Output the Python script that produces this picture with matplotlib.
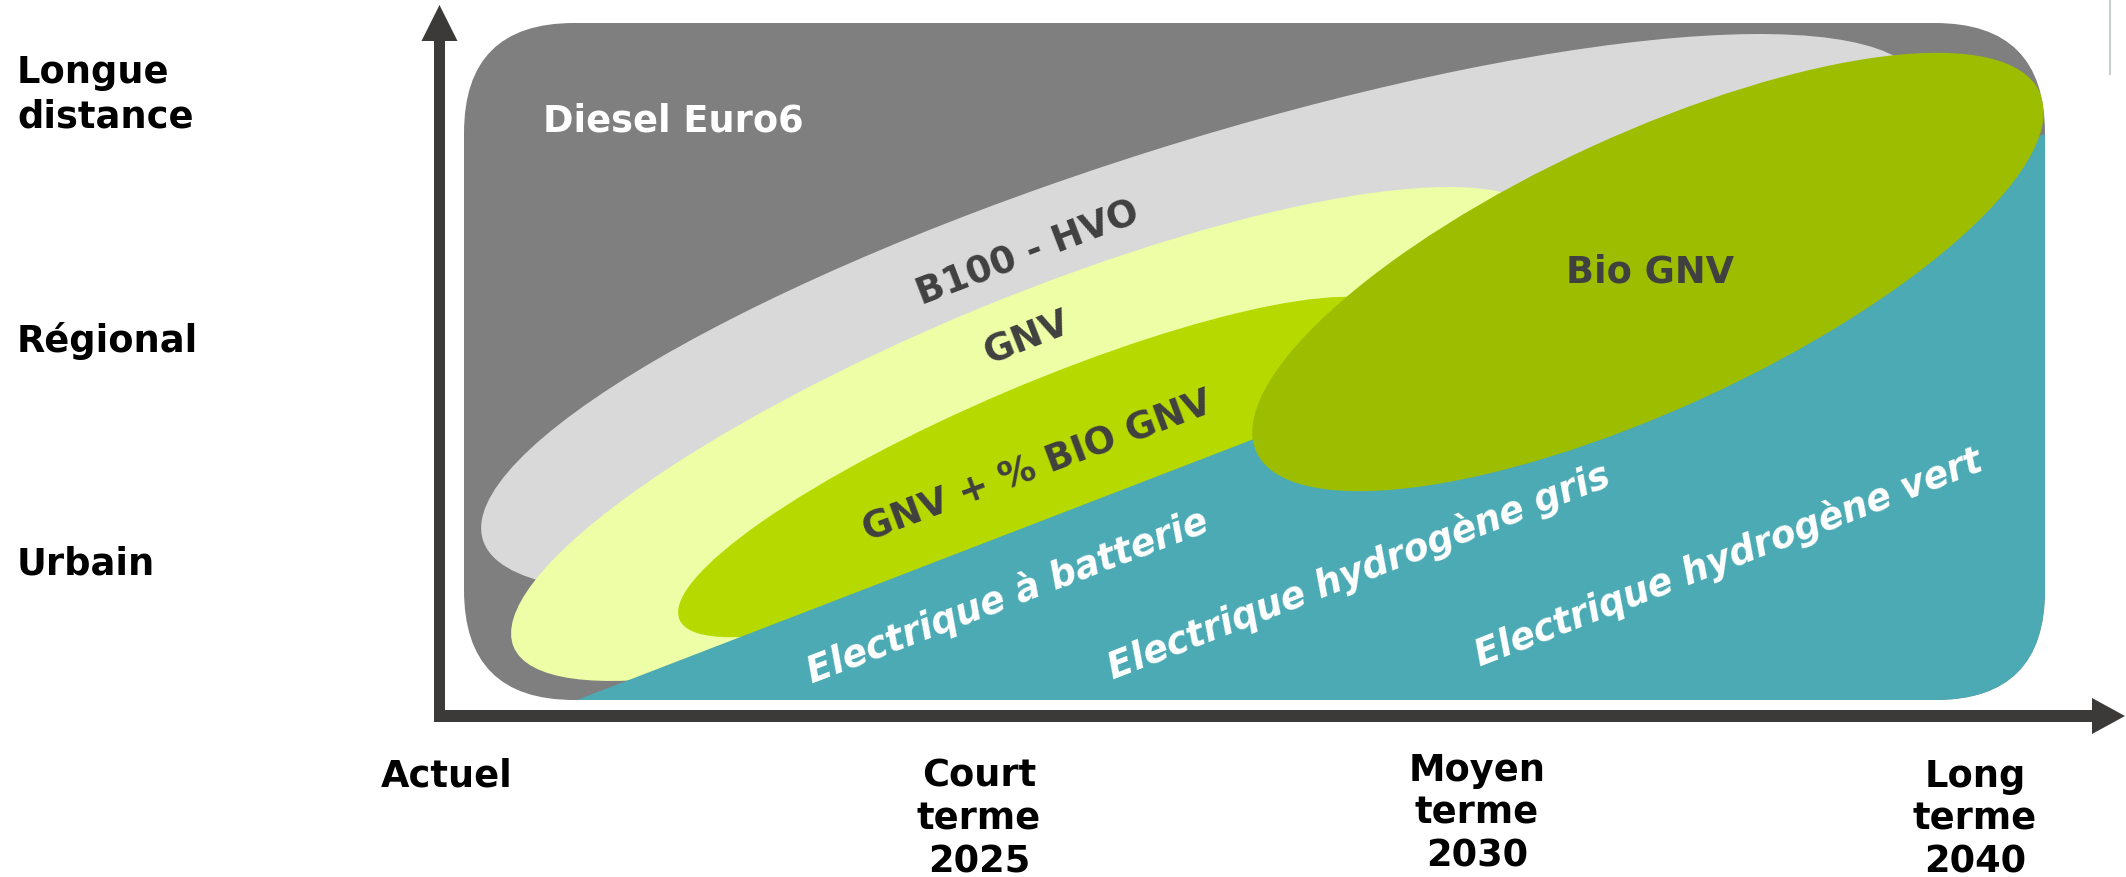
import matplotlib
matplotlib.use('Agg')
import matplotlib.pyplot as plt
from matplotlib.patches import Ellipse, FancyBboxPatch, Polygon, FancyArrow

plt.rcParams['font.family'] = ['DejaVu Sans']

# ---------------- data (schematic, pixel units of a 2126x878 canvas) ----------------
time_labels = ["Actuel", "Court\nterme\n2025", "Moyen\nterme\n2030", "Long\nterme\n2040"]
time_x = [447, 979, 1477, 1975]
time_baseline = [787, 787, 781, 787]

range_labels = ["Longue\ndistance", "Régional", "Urbain"]
range_baseline = [83, 352, 575]

# background technology (rounded frame)
base_name = "Diesel Euro6"
frame_box = [464, 24, 1581, 677]          # x, y, width, height
frame_radius = 110

# elliptical technology zones
zone_names = ["B100 - HVO", "GNV", "GNV + % BIO GNV", "Bio GNV"]
zone_cx = [1203, 1030, 1039, 1648]
zone_cy = [314, 435, 468, 273]
zone_w = [1510, 1117, 781, 862]
zone_h = [340, 271, 164, 275]
zone_angle = [-17.5, -22.4, -23.0, -24.7]
zone_colors = ["#d9d9d9", "#edfea6", "#b6da00", "#9dbe00"]

# label anchors (baseline centre) and rotation for the zone labels
zone_label_x = [1032, 1031, 1041, 1650]
zone_label_y = [263, 348, 477, 283]
zone_label_rot = [21, 21.5, 20.5, 0]

# electric zone (below the diagonal)
elec_diag_start = (577, 701)
elec_diag_end = (2045, 135)
elec_color = "#4baab4"
elec_names = ["Electrique à batterie", "Electrique hydrogène gris", "Electrique hydrogène vert"]
elec_label_x = [1011, 1363, 1733]
elec_label_y = [607, 582, 568]
elec_label_rot = [21, 21.3, 21.3]

axis_color = "#3b3a39"
FS = 26.5

# ---------------- drawing ----------------
fig = plt.figure(figsize=(21.26, 8.78), dpi=100)
ax = fig.add_axes([0, 0, 1, 1])
ax.set_xlim(0, 2126)
ax.set_ylim(878, 0)
ax.axis('off')

fx, fy, fw, fh = frame_box
frame = FancyBboxPatch((fx, fy), fw, fh,
                       boxstyle=f"round,pad=0,rounding_size={frame_radius}",
                       fc="#7f7f7f", ec="none", zorder=1)
ax.add_patch(frame)

for i in range(3):
    e = Ellipse((zone_cx[i], zone_cy[i]), zone_w[i], zone_h[i], angle=zone_angle[i],
                fc=zone_colors[i], ec="none", zorder=2 + i)
    ax.add_patch(e)
    e.set_clip_path(frame)

x0, y0 = elec_diag_start
x1, y1 = elec_diag_end
teal = Polygon([(x0, y0), (x1, y1), (x1 + 60, y1), (x1 + 60, y0 + 60), (x0, y0 + 60)],
               closed=True, fc=elec_color, ec="none", zorder=5)
ax.add_patch(teal)
teal.set_clip_path(frame)

e = Ellipse((zone_cx[3], zone_cy[3]), zone_w[3], zone_h[3], angle=zone_angle[3],
            fc=zone_colors[3], ec="none", zorder=6)
ax.add_patch(e)
e.set_clip_path(frame)

# labels inside
ax.text(543, 132, base_name, color="white", fontsize=FS, fontweight="bold",
        ha="left", va="baseline", zorder=10)
for name, x, y, r in zip(zone_names, zone_label_x, zone_label_y, zone_label_rot):
    ax.text(x, y, name, color="#404040", fontsize=FS, fontweight="bold",
            ha="center", va="baseline", rotation=r, rotation_mode="anchor", zorder=10)
for name, x, y, r in zip(elec_names, elec_label_x, elec_label_y, elec_label_rot):
    ax.text(x, y, name, color="white", fontsize=FS, fontweight="bold", fontstyle="italic",
            ha="center", va="baseline", rotation=r, rotation_mode="anchor", zorder=10)

# axes arrows
ax.add_patch(FancyArrow(439.5, 723, 0, -717, width=11, head_width=36, head_length=36,
                        length_includes_head=True, fc=axis_color, ec="none", zorder=8))
ax.add_patch(FancyArrow(434, 717, 1691, 0, width=12, head_width=36, head_length=33,
                        length_includes_head=True, fc=axis_color, ec="none", zorder=8))

# axis labels
line_step = 43
for lab, x, yb in zip(time_labels, time_x, time_baseline):
    for k, line in enumerate(lab.split("\n")):
        ax.text(x, yb + k * line_step, line, color="black", fontsize=FS, fontweight="bold",
                ha="center", va="baseline")
for lab, yb in zip(range_labels, range_baseline):
    for k, line in enumerate(lab.split("\n")):
        ax.text(17, yb + k * 45, line, color="black", fontsize=FS, fontweight="bold",
                ha="left", va="baseline")

# thin edge mark at top right
ax.plot([2110, 2110], [0, 75], color="#c5cfcf", lw=1.5)

fig.savefig("out.png", dpi=100)
